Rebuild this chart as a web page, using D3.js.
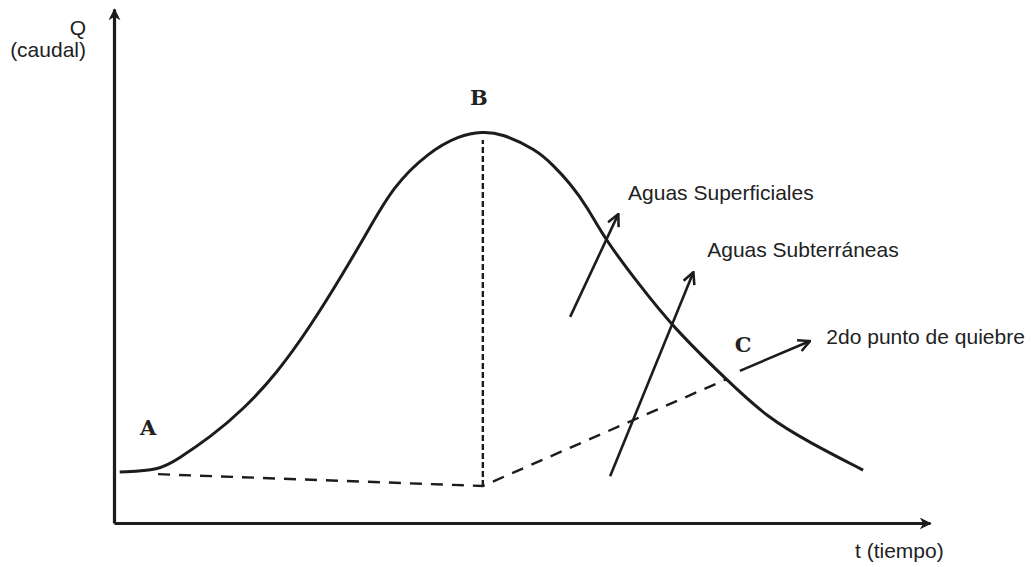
<!DOCTYPE html>
<html>
<head>
<meta charset="utf-8">
<script src="https://cdn.jsdelivr.net/npm/d3@7"></script>
<style>
  html, body { margin: 0; padding: 0; background: #fff; }
  svg { display: block; }
  .txt { font-family: "Liberation Sans", Arial, sans-serif; font-size: 21px; fill: #222; }
  .letra { font-family: "DejaVu Serif", "Liberation Serif", serif; font-weight: bold; font-size: 21px; fill: #222; }
</style>
</head>
<body>
<svg id="chart" width="1031" height="567"></svg>
<script>
// hidrograma: tiempo (t) y caudal (Q)
const hidroT = [0.07, 0.56, 0.77, 1.18, 1.58, 2.00, 2.40, 2.81, 3.14, 3.42, 3.84, 4.24, 4.52, 4.73, 5.18, 5.38, 5.59, 5.80, 6.02, 6.45, 6.85, 7.51, 8.00, 8.53, 9.18];
const hidroQ = [0.99, 1.03, 1.23, 1.67, 2.20, 2.92, 3.81, 4.86, 5.76, 6.54, 7.20, 7.55, 7.61, 7.59, 7.26, 6.96, 6.61, 6.15, 5.51, 4.61, 3.81, 2.78, 2.06, 1.56, 1.03];

// flujo base (linea discontinua A - B - C)
const baseT = [0.54, 4.52, 7.51];
const baseQ = [0.95, 0.72, 2.80];

// linea vertical bajo el pico B
const picoT = 4.52;
const picoQ = [0.72, 7.45];

// puntos A, B, C
const puntos = ["A", "B", "C"];
const puntosT = [0.42, 4.47, 7.71];
const puntosQ = [1.71, 8.13, 3.33];

// flechas de anotacion [t0, Q0, t1, Q1]
const flechas = [
    [5.59, 4.01, 6.18, 6.01],
    [6.08, 0.91, 7.10, 4.88],
    [7.67, 2.96, 8.53, 3.54]
];
const textos = ["Aguas Superficiales", "Aguas Subterráneas", "2do punto de quiebre"];
const textosT = [6.30, 7.27, 8.73];
const textosQ = [6.28, 5.17, 3.48];

const svg = d3.select("#chart");
const color = "#1c1c1c";

const x = d3.scaleLinear().domain([0, 10]).range([114, 930]);
const y = d3.scaleLinear().domain([0, 10]).range([523, 9]);

// marcadores de flecha
const defs = svg.append("defs");
defs.append("marker")
    .attr("id", "punta")
    .attr("viewBox", "0 0 10 10")
    .attr("refX", 9).attr("refY", 5)
    .attr("markerWidth", 12).attr("markerHeight", 12)
    .attr("markerUnits", "userSpaceOnUse")
    .attr("orient", "auto")
    .append("path")
    .attr("d", "M0,0 L10,5 L0,10 L3,5 Z")
    .attr("fill", color);

defs.append("marker")
    .attr("id", "abierta")
    .attr("viewBox", "0 0 12 12")
    .attr("refX", 11).attr("refY", 6)
    .attr("markerWidth", 14).attr("markerHeight", 14)
    .attr("markerUnits", "userSpaceOnUse")
    .attr("orient", "auto")
    .append("path")
    .attr("d", "M1,1 L11,6 L1,11")
    .attr("fill", "none")
    .attr("stroke", color)
    .attr("stroke-width", 2.2);

// ejes sin marcas
const ejeX = svg.append("g")
    .attr("transform", "translate(0," + y(0) + ")")
    .call(d3.axisBottom(x).tickValues([]).tickSizeOuter(0));
const ejeY = svg.append("g")
    .attr("transform", "translate(" + x(0) + ",0)")
    .call(d3.axisLeft(y).tickValues([]).tickSizeOuter(0));

[ejeX, ejeY].forEach(function (g) {
    g.select(".domain")
        .attr("stroke", color)
        .attr("stroke-width", 3.2)
        .attr("marker-end", "url(#punta)");
});

svg.append("text").attr("class", "txt")
    .attr("x", 86).attr("y", 35).attr("text-anchor", "end").text("Q");
svg.append("text").attr("class", "txt")
    .attr("x", 86).attr("y", 57).attr("text-anchor", "end").text("(caudal)");
svg.append("text").attr("class", "txt")
    .attr("x", 855).attr("y", 558).text("t (tiempo)");

// flujo base
const baseDatos = baseT.map(function (t, i) { return [t, baseQ[i]]; });
svg.append("path")
    .datum(baseDatos)
    .attr("d", d3.line().x(function (d) { return x(d[0]); }).y(function (d) { return y(d[1]); }))
    .attr("fill", "none")
    .attr("stroke", color)
    .attr("stroke-width", 2.4)
    .attr("stroke-dasharray", "12,9");

// vertical del pico
svg.append("line")
    .attr("x1", x(picoT)).attr("x2", x(picoT))
    .attr("y1", y(picoQ[0])).attr("y2", y(picoQ[1]))
    .attr("stroke", color)
    .attr("stroke-width", 2.4)
    .attr("stroke-dasharray", "6,3");

// hidrograma
const hidroDatos = hidroT.map(function (t, i) { return [t, hidroQ[i]]; });
svg.append("path")
    .datum(hidroDatos)
    .attr("d", d3.line()
        .x(function (d) { return x(d[0]); })
        .y(function (d) { return y(d[1]); })
        .curve(d3.curveBasis))
    .attr("fill", "none")
    .attr("stroke", color)
    .attr("stroke-width", 3);

// flechas
svg.selectAll(".flecha")
    .data(flechas)
    .enter().append("line")
    .attr("class", "flecha")
    .attr("x1", function (d) { return x(d[0]); })
    .attr("y1", function (d) { return y(d[1]); })
    .attr("x2", function (d) { return x(d[2]); })
    .attr("y2", function (d) { return y(d[3]); })
    .attr("stroke", color)
    .attr("stroke-width", 2.6)
    .attr("marker-end", "url(#abierta)");

svg.selectAll(".anot")
    .data(textos)
    .enter().append("text")
    .attr("class", "txt")
    .attr("x", function (d, i) { return x(textosT[i]); })
    .attr("y", function (d, i) { return y(textosQ[i]); })
    .text(function (d) { return d; });

svg.selectAll(".letra")
    .data(puntos)
    .enter().append("text")
    .attr("class", "letra")
    .attr("text-anchor", "middle")
    .attr("x", function (d, i) { return x(puntosT[i]); })
    .attr("y", function (d, i) { return y(puntosQ[i]); })
    .text(function (d) { return d; });
</script>
</body>
</html>
